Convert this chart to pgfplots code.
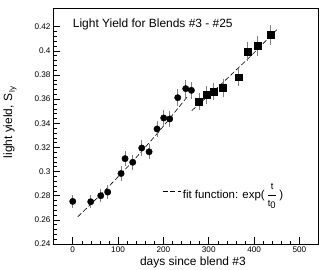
\documentclass[border=0pt]{standalone}
\usepackage{amsmath}
\usepackage{pgfplots}
\pgfplotsset{compat=1.18}
\usepackage{fontspec}
\setmainfont{Liberation Sans}
\newcommand{\fr}[1]{\text{\fontsize{9.5}{10}\selectfont #1}}
\begin{document}
\begin{tikzpicture}
\begin{axis}[
  name=ax,
  scale only axis,
  width=265bp, height=236bp,
  xmin=-43.5, xmax=541,
  ymin=0.24, ymax=0.4355,
  axis line style={black, line width=0.6pt},
  tick align=inside,
  xtick pos=bottom, ytick pos=left,
  xtick={0,100,200,300,400,500},
  ytick={0.24,0.26,0.28,0.30,0.32,0.34,0.36,0.38,0.40,0.42},
  yticklabels={0.24,0.26,0.28,0.3,0.32,0.34,0.36,0.38,0.4,0.42},
  minor x tick num=4, minor y tick num=4,
  major tick length=7bp, minor tick length=3.5bp,
  tick style={black, line width=0.5pt},
  ticklabel style={font=\fontsize{8.2}{9}\selectfont},
  /pgf/number format/assume math mode=true,
  xticklabel style={yshift=1bp},
  yticklabel style={xshift=1bp},
  xlabel={days since blend \#3},
  ylabel={light yield, S\raisebox{-0.45ex}{\fontsize{8}{9}\selectfont\,ly}},
  label style={font=\fontsize{12}{14}\selectfont},
  xlabel style={at={(axis description cs:0.528,-0.076)}, anchor=center},
  ylabel style={at={(axis description cs:-0.162,0.515)}, anchor=center},
  legend style={at={(axis cs:197,0.2833)}, anchor=west, draw=none, fill=none,
    font=\fontsize{11.5}{13}\selectfont, inner sep=0pt},
  legend image code/.code={\draw[#1] (0bp,0bp) -- (18bp,0bp);},
]
% fit segments
\addplot[black, line width=0.6pt, dash pattern=on 5bp off 2.5bp, forget plot] coordinates {
 (11,0.2625) (70,0.2839) (130,0.3074) (190,0.3330) (255,0.3630)};
\addplot[black, line width=0.6pt, dash pattern=on 5bp off 2.5bp] coordinates {
 (262.5,0.3505) (325,0.3715) (390,0.3947) (451.5,0.418)};
\addlegendentry{fit function: exp(\,$\dfrac{\fr{t}}{\fr{t}_{\fr{0}}}$\,)}
% circles
\addplot[only marks, mark=*, mark size=3.2bp, black, forget plot,
  error bars/.cd, y dir=both, y explicit,
  error bar style={gray, line width=0.6pt}, error mark=none]
  table[x=x, y=y, y error=e] {
x y e
0 0.2753 0.0055
39.7 0.2750 0.0055
61.8 0.2800 0.0056
77.2 0.2830 0.0057
106.6 0.2984 0.0060
115.4 0.3107 0.0062
132.4 0.3077 0.0062
152.2 0.3195 0.0064
168.4 0.3164 0.0063
186.0 0.3353 0.0067
200.7 0.3444 0.0069
214.0 0.3436 0.0069
231.6 0.3612 0.0072
249.3 0.3687 0.0074
261.8 0.3673 0.0073
};
% squares
\addplot[only marks, mark=square*, mark size=3.4bp, black, forget plot,
  error bars/.cd, y dir=both, y explicit,
  error bar style={gray, line width=0.6pt}, error mark=none]
  table[x=x, y=y, y error=e] {
x y e
278.7 0.3582 0.0072
294.9 0.3634 0.0073
310.3 0.3662 0.0073
331.6 0.3692 0.0074
365.4 0.3781 0.0076
385.3 0.3993 0.0080
408.0 0.4040 0.0081
436.8 0.4131 0.0083
};
\node[anchor=base west, font=\fontsize{12}{14}\selectfont, inner sep=0pt] at (axis cs:0,0.4192) {Light Yield for Blends \#3 - \#25};
\end{axis}
\pgfresetboundingbox
\path ([shift={(-53bp,-26bp)}]ax.south west) rectangle ([shift={(7bp,8bp)}]ax.north east);
\end{tikzpicture}
\end{document}
